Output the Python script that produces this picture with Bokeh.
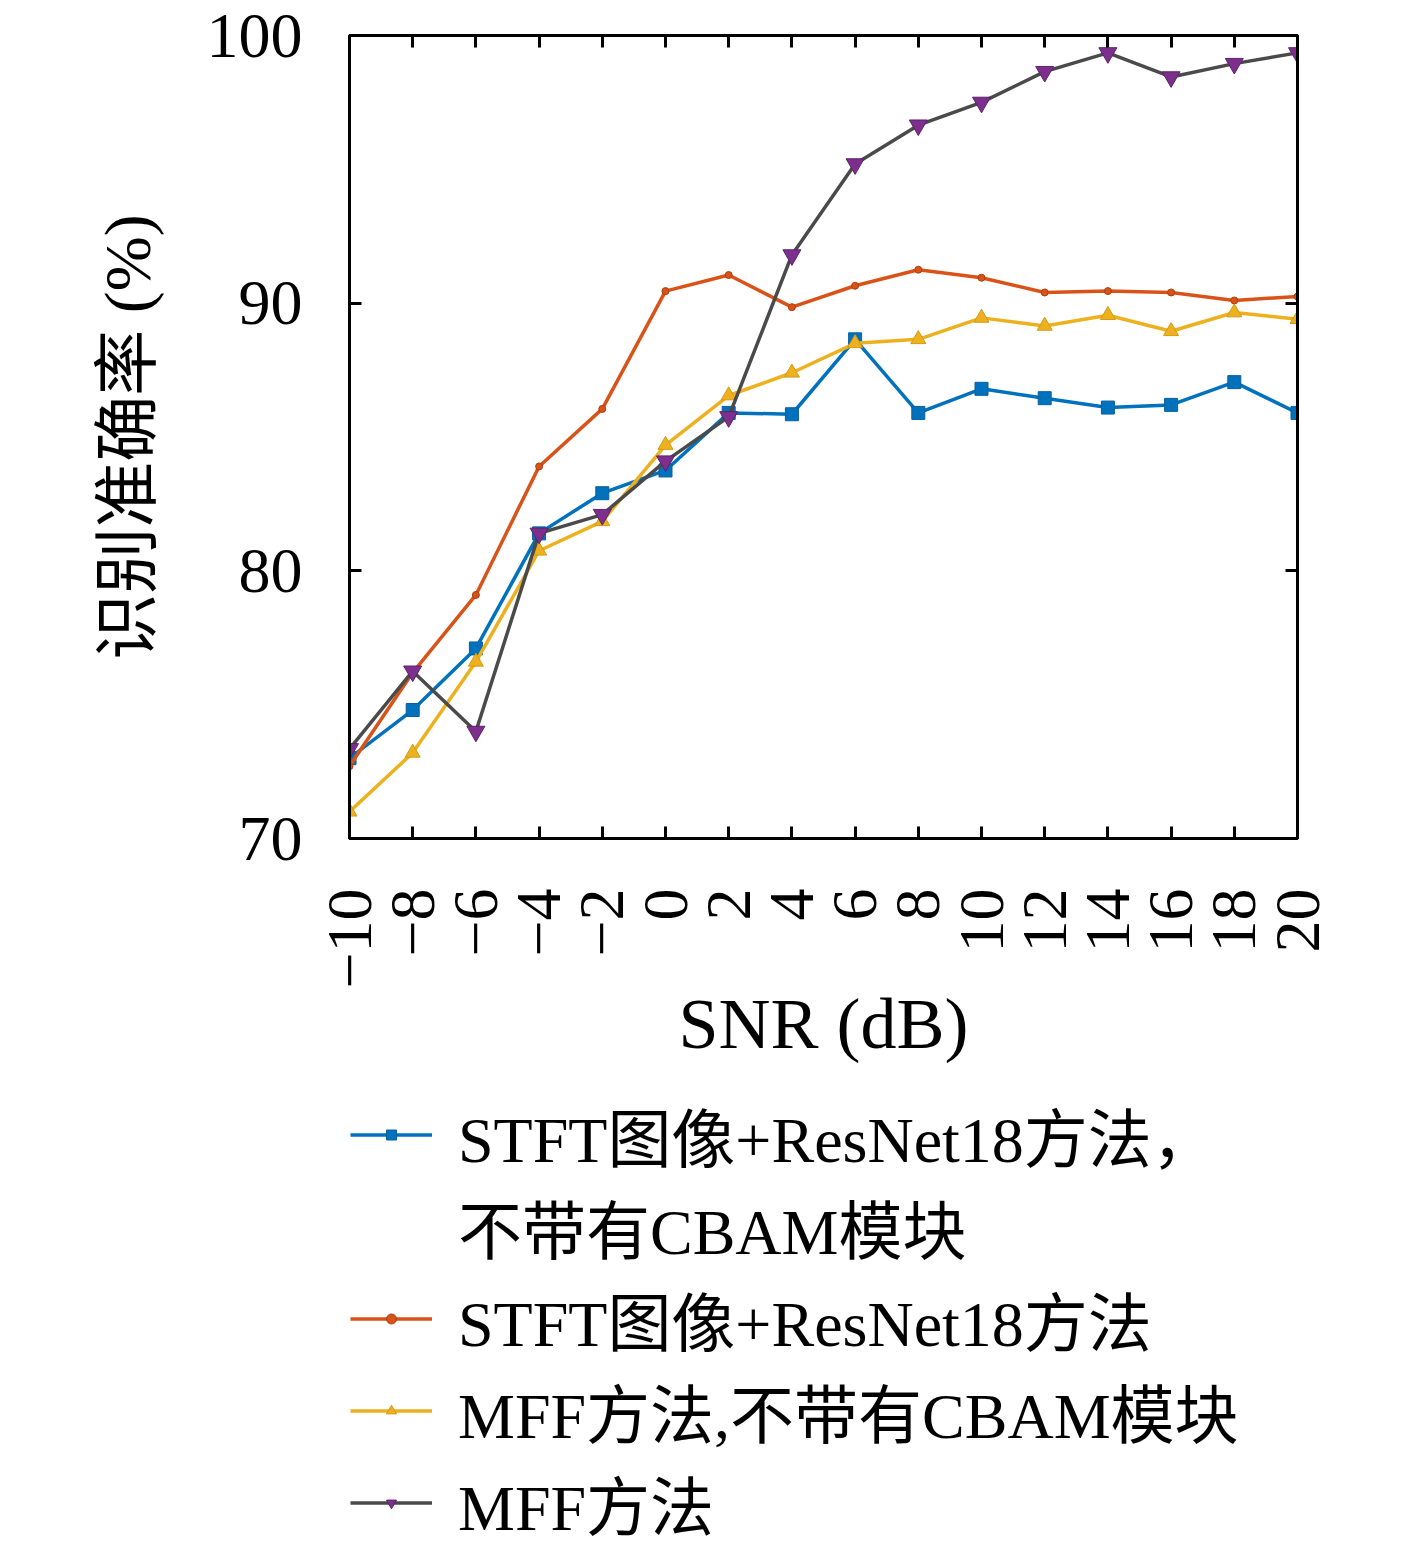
import math
from bokeh.plotting import figure
from bokeh.layouts import column
from bokeh.models import Range1d, LinearAxis, FixedTicker, Legend, LegendItem
from bokeh.embed import file_html
from bokeh.resources import INLINE

# ---- data ----
snr = [-10, -8, -6, -4, -2, 0, 2, 4, 6, 8, 10, 12, 14, 16, 18, 20]
stft_no_cbam = [73.0, 74.8, 77.1, 81.4, 82.9, 83.75, 85.9, 85.85, 88.65, 85.9, 86.8, 86.45, 86.1, 86.2, 87.05, 85.9]
stft_cbam = [72.7, 76.2, 79.1, 83.9, 86.05, 90.45, 91.05, 89.85, 90.65, 91.25, 90.95, 90.4, 90.45, 90.4, 90.1, 90.25]
mff_no_cbam = [71.0, 73.2, 76.6, 80.75, 81.85, 84.7, 86.55, 87.4, 88.5, 88.65, 89.45, 89.15, 89.55, 88.95, 89.65, 89.4]
mff = [73.35, 76.25, 74.0, 81.4, 82.1, 84.1, 85.75, 91.8, 95.2, 96.65, 97.5, 98.65, 99.35, 98.45, 98.95, 99.35]

x_ticks = snr
y_ticks = [70, 80, 90, 100]
x_tick_labels = {t: ("\u2212%d" % (-t) if t < 0 else str(t)) for t in x_ticks}
legend_line1 = "STFT图像+ResNet18方法，"
legend_line1b = "不带有CBAM模块"
legend_labels = ["STFT图像+ResNet18方法", "MFF方法,不带有CBAM模块", "MFF方法"]
x_label = "SNR (dB)"
y_label = "识别准确率 (%)"

FONT = "Liberation Serif, Noto Sans CJK SC"
W = 1410
H1 = 1090
H2 = 455
F_LEFT, F_TOP, F_RIGHT, F_BOTTOM = 349, 35, 1297, 838

p = figure(width=W, height=H1, x_range=Range1d(-10, 20), y_range=Range1d(70, 100),
           output_backend="svg", toolbar_location=None,
           min_border_left=F_LEFT, min_border_top=F_TOP, min_border_right=W - F_RIGHT,
           min_border_bottom=H1 - F_BOTTOM)
p.background_fill_color = "white"
p.border_fill_color = "white"
p.xgrid.visible = False
p.ygrid.visible = False
p.outline_line_color = "black"
p.outline_line_width = 3


def style_axis(ax, show_labels):
    ax.axis_line_color = "black"
    ax.axis_line_width = 3
    ax.major_tick_line_color = "black"
    ax.major_tick_line_width = 3
    ax.major_tick_in = 12
    ax.major_tick_out = 0
    ax.minor_tick_line_color = None
    ax.major_label_text_font = FONT
    ax.axis_label_text_font = FONT
    ax.axis_label_text_font_style = "normal"
    ax.axis_label_text_color = "black"
    if show_labels:
        ax.major_label_text_font_size = "64px"
        ax.major_label_text_color = "black"
    else:
        ax.major_label_text_font_size = "1px"
        ax.major_label_text_color = None
        ax.major_label_standoff = 0


xa = p.xaxis[0]
xa.ticker = FixedTicker(ticks=x_ticks)
xa.major_label_overrides = x_tick_labels
xa.major_label_orientation = math.pi / 2
style_axis(xa, True)
xa.major_label_standoff = 50
xa.axis_label = x_label
xa.axis_label_text_font_size = "72px"
xa.axis_label_standoff = -8

ya = p.yaxis[0]
ya.ticker = FixedTicker(ticks=y_ticks)
style_axis(ya, True)
ya.major_label_standoff = 47
ya.axis_label = y_label
ya.axis_label_text_font_size = "66px"
ya.axis_label_standoff = 40

top = LinearAxis(ticker=FixedTicker(ticks=x_ticks))
style_axis(top, False)
p.add_layout(top, "above")
right = LinearAxis(ticker=FixedTicker(ticks=y_ticks))
style_axis(right, False)
p.add_layout(right, "right")

# ---- series ----
series = [stft_no_cbam, stft_cbam, mff_no_cbam, mff]
specs = [
    ("#0072BD", "square", 13, "#0072BD", "#0a5f9a"),
    ("#D95319", "circle", 7, "#D95319", "#a8400f"),
    ("#EDB120", "triangle", 15, "#EDB120", "#d69a10"),
    ("#4a4a4a", "inverted_triangle", 18, "#7E2F8E", "#5b2268"),
]
for vals, (lc, mk, sz, fc, mlc) in zip(series, specs):
    p.line(snr, vals, line_color=lc, line_width=3.5)
    p.scatter(snr, vals, marker=mk, size=sz, fill_color=fc, line_color=mlc, line_width=1)

# ---- legend panel (separate figure below; its series lie outside its range) ----
q = figure(width=W, height=H2, x_range=Range1d(-10, 20), y_range=Range1d(0, 1),
           output_backend="svg", toolbar_location=None,
           x_axis_type=None, y_axis_type=None,
           min_border=0, min_border_left=0, min_border_right=0,
           min_border_top=0, min_border_bottom=0)
q.xgrid.visible = False
q.ygrid.visible = False
q.outline_line_color = None
q.background_fill_color = "white"
q.border_fill_color = "white"

leg_rends = []
for vals, (lc, mk, sz, fc, mlc) in zip(series, specs):
    lr = q.line(snr, vals, line_color=lc, line_width=3.5)
    sr = q.scatter(snr, vals, marker=mk, fill_color=fc, line_color=mlc, line_width=1)
    leg_rends.append([lr, sr])
blank = q.line(snr, series[0], line_alpha=0)

items = [
    LegendItem(label=legend_line1, renderers=leg_rends[0]),
    LegendItem(label=legend_line1b, renderers=[blank]),
    LegendItem(label=legend_labels[0], renderers=leg_rends[1]),
    LegendItem(label=legend_labels[1], renderers=leg_rends[2]),
    LegendItem(label=legend_labels[2], renderers=leg_rends[3]),
]
leg = Legend(items=items, location=(1, -3), orientation="vertical",
             glyph_width=82, glyph_height=25, label_height=90, spacing=0,
             padding=0, margin=0, label_standoff=26,
             label_text_font=FONT, label_text_font_size="64px", label_text_color="black",
             border_line_alpha=0, background_fill_alpha=0)
q.add_layout(leg, "center")

layout = column(p, q, spacing=0)
open("out.html", "w").write(file_html(layout, INLINE))
